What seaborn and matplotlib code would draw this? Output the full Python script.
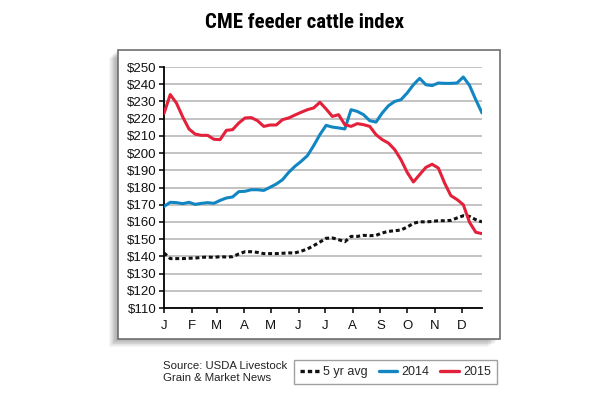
import numpy as np
import pandas as pd
import matplotlib
matplotlib.use("Agg")
import matplotlib.pyplot as plt
from matplotlib import font_manager
from matplotlib.patches import Rectangle
from matplotlib.lines import Line2D
import seaborn as sns

# ---------------- data (weekly, $/cwt) ----------------
months = ["J", "F", "M", "A", "M", "J", "J", "A", "S", "O", "N", "D"]
month_days = [31, 28, 31, 30, 31, 30, 31, 31, 30, 31, 30, 31]

avg5 = [142, 138.7, 138.7, 138.7, 138.9, 139, 139.4, 139.6, 139.4, 139.8, 139.6, 139.8,
        141.4, 142.7, 142.7, 142.3, 141.6, 141.6, 141.6, 141.8, 142, 142, 143, 144.3,
        146.2, 148.3, 150.5, 150.7, 149.7, 148.5, 151.6, 151.6, 152.2, 152, 152.2, 153.6,
        154.5, 154.9, 155.3, 157, 159.2, 160.1, 160, 160.3, 160.7, 160.7, 160.9, 162.3,
        163.6, 163.2, 161.3, 160]
y2014 = [169, 171.4, 171.2, 170.6, 171.4, 170.2, 170.8, 171.2, 170.8, 172.5, 173.9, 174.5,
         177.6, 177.8, 178.7, 178.7, 178.3, 180.1, 182, 184.5, 188.8, 192.3, 195.2, 198.5,
         204.3, 210.7, 216.1, 215.1, 214.6, 214, 225.2, 224.2, 222.3, 218.8, 218, 223.3,
         227.5, 230, 231, 234.9, 239.7, 243.4, 239.7, 239.2, 240.7, 240.5, 240.5, 240.7,
         244.2, 239.3, 231, 223.3]
y2015 = [223, 234, 229, 221, 214, 211, 210.3, 210.3, 208, 207.8, 213.2, 213.6,
         217.5, 220.4, 220.6, 218.8, 215.5, 216.3, 216.3, 219.4, 220.4, 222.1, 223.7, 225.2,
         226.2, 229.5, 225.6, 221.3, 222.3, 216.5, 215.5, 217.1, 216.5, 215.5, 210.7, 207.8,
         205.8, 202, 196.2, 188.8, 183.2, 187.5, 191.7, 193.5, 191.3, 182.6, 175.3, 173,
         170, 159.8, 154, 153.2]
series_names = ["5 yr avg", "2014", "2015"]
yticks = list(range(110, 251, 10))

weeks = np.arange(len(y2014))
df = pd.concat([
    pd.DataFrame({"week": weeks, "value": v, "series": n})
    for n, v in zip(series_names, [avg5, y2014, y2015])
], ignore_index=True)

# ---------------- fonts ----------------
names = {f.name for f in font_manager.fontManager.ttflist}
base_font = "Liberation Sans" if "Liberation Sans" in names else "DejaVu Sans"
title_family = base_font
for cand in ["Liberation Sans Narrow", "Roboto Condensed", "Roboto"]:
    if cand in names:
        title_family = cand
        break

sns.set_theme(style="white")
plt.rcParams["font.family"] = [base_font, "DejaVu Sans"]

W, H = 610, 405
fig = plt.figure(figsize=(W / 100, H / 100), dpi=100)
fig.patch.set_facecolor("white")

def fx(x):
    return x / W

def fy(y):
    return 1 - y / H

# panel shadow + box
for k in range(1, 10):
    fig.patches.append(Rectangle((fx(117 - k * 0.9), fy(339 + k * 0.9)),
                                 fx(383 - k * 0.4), (339 - 50) / H,
                                 transform=fig.transFigure, facecolor="black",
                                 alpha=0.035, edgecolor="none", zorder=0))
fig.patches.append(Rectangle((fx(117.5), fy(339)), fx(382.5), (339 - 50) / H,
                             transform=fig.transFigure, facecolor="white",
                             edgecolor="#6e6e6e", linewidth=1.2, zorder=1))

ax = fig.add_axes([fx(164), fy(308), fx(482 - 164), (308 - 67) / H], zorder=2)
ax.set_facecolor("none")

palette = {"5 yr avg": "#111111", "2014": "#1286c2", "2015": "#e3213b"}
dashes = {"5 yr avg": (1.3, 0.9), "2014": "", "2015": ""}
sns.lineplot(data=df, x="week", y="value", hue="series", style="series",
             palette=palette, dashes=dashes, linewidth=2.2, legend=False, ax=ax,
             zorder=3)

ax.set_ylim(110, 250)
ax.set_xlim(0, len(y2014) - 1)
ax.set_yticks(yticks)
ax.set_yticklabels([f"${v}" for v in yticks])
month_pos = np.concatenate([[0], np.cumsum(month_days[:-1])]) / 7.0
ax.set_xticks(month_pos)
ax.set_xticklabels(months)
ax.grid(axis="y", color="#b3b3b3", linewidth=1.1, zorder=1)
ax.grid(axis="x", visible=False)
for s in ["top", "right"]:
    ax.spines[s].set_visible(False)
for s in ["left", "bottom"]:
    ax.spines[s].set_color("black")
    ax.spines[s].set_linewidth(1.3)
ax.tick_params(axis="both", which="major", direction="out", length=3.5, width=1.1,
               color="black", labelsize=9.5, labelcolor="#111111", left=True, bottom=True)
ax.tick_params(axis="y", pad=2)
ax.tick_params(axis="x", pad=5)
ax.set_xlabel("")
ax.set_ylabel("")

fig.text(0.5, fy(22), "CME feeder cattle index", ha="center", va="center",
         fontsize=15, fontweight="bold", family=[title_family, "DejaVu Sans"],
         color="black")

fig.text(fx(163), fy(372), "Source: USDA Livestock\nGrain & Market News", ha="left",
         va="center", fontsize=8.2, color="#222222", linespacing=1.2)

handles = [Line2D([], [], color=palette[n], linewidth=2.4,
                  linestyle=(0, dashes[n]) if dashes[n] else "-") for n in series_names]
leg = fig.legend(handles, series_names, loc="center", mode="expand",
                 bbox_to_anchor=(fx(294), fy(386), fx(203), 28 / H), ncol=3,
                 frameon=True, fancybox=False, edgecolor="#888888", fontsize=9,
                 handlelength=1.5, handletextpad=0.3, columnspacing=0.8,
                 borderpad=0.5, borderaxespad=0)
leg.get_frame().set_linewidth(1.0)

fig.savefig("out.png", dpi=100, facecolor="white")
